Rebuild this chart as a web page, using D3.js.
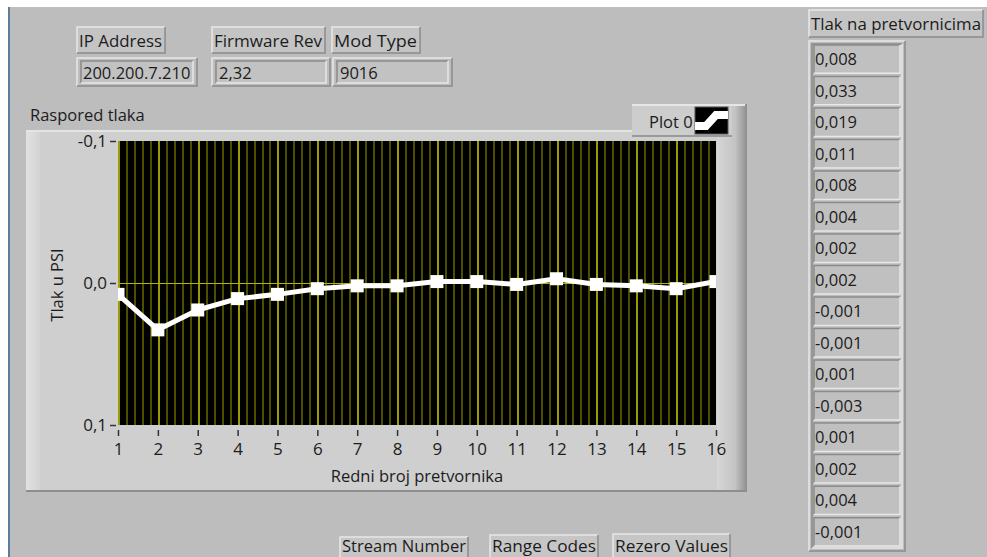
<!DOCTYPE html>
<html>
<head>
<meta charset="utf-8">
<script src="https://cdn.jsdelivr.net/npm/d3@7"></script>
<style>
  body { margin: 0; background: #fff; }
  svg { display: block; }
  text { font-family: "Open Sans", "Noto Sans", sans-serif; fill: #1c1c1c; }
</style>
</head>
<body>
<svg width="987" height="557"></svg>
<script>
// data
var sensors = d3.range(1, 17);
var pressure = [0.008, 0.033, 0.019, 0.011, 0.008, 0.004, 0.002, 0.002,
                -0.001, -0.001, 0.001, -0.003, 0.001, 0.002, 0.004, -0.001];
var pressureLabels = ["0,008", "0,033", "0,019", "0,011", "0,008", "0,004", "0,002", "0,002",
                      "-0,001", "-0,001", "0,001", "-0,003", "0,001", "0,002", "0,004", "-0,001"];
var yTicks = [-0.1, 0, 0.1];
var infoLabels = ["IP Address", "Firmware Rev", "Mod Type"];
var infoValues = ["200.200.7.210", "2,32", "9016"];
var buttons = ["Stream Number", "Range Codes", "Rezero Values"];

var svg = d3.select("svg"),
    width = +svg.attr("width"),
    height = +svg.attr("height");

var fs = 16.5;
var locale = d3.formatLocale({decimal: ",", thousands: ".", grouping: [3], currency: ["", ""], minus: "-"});
var fmt = locale.format(".1f");

var defs = svg.append("defs");
var gr = defs.append("linearGradient").attr("id", "rside").attr("x1", 0).attr("x2", 1);
gr.append("stop").attr("offset", 0).attr("stop-color", "#d6d6d6");
gr.append("stop").attr("offset", 0.6).attr("stop-color", "#c4c4c4");
gr.append("stop").attr("offset", 1).attr("stop-color", "#8e8e8e");
var gl = defs.append("linearGradient").attr("id", "lside").attr("x1", 0).attr("x2", 1);
gl.append("stop").attr("offset", 0).attr("stop-color", "#e2e2e2");
gl.append("stop").attr("offset", 1).attr("stop-color", "#d2d2d2");

// panel background
svg.append("rect").attr("x", 8).attr("y", 7).attr("width", width - 8).attr("height", height - 7)
    .attr("fill", "#bdbdbd");
svg.append("rect").attr("x", 8).attr("y", 7).attr("width", 2).attr("height", height - 7)
    .attr("fill", "#5b7d9c");

// raised / sunken box
function box(x, y, w, h, fill, inset) {
  var g = svg.append("g");
  g.append("rect").attr("x", x).attr("y", y).attr("width", w).attr("height", h).attr("fill", fill);
  var lt = inset ? "#8a8a8a" : "#e8e8e8", rb = inset ? "#e8e8e8" : "#8a8a8a";
  g.append("path").attr("d", "M" + x + "," + (y + h) + "V" + y + "H" + (x + w))
      .attr("fill", "none").attr("stroke", lt).attr("stroke-width", 1.5);
  g.append("path").attr("d", "M" + (x + w) + "," + y + "V" + (y + h) + "H" + x)
      .attr("fill", "none").attr("stroke", rb).attr("stroke-width", 1.5);
  return g;
}

// info controls
var infoX = [[77, 88, 77, 120], [212, 113, 212, 118], [332, 88, 333, 119]];
infoLabels.forEach(function(t, i) {
  var p = infoX[i];
  box(p[0], 27, p[1], 26, "#c4c4c4", false);
  svg.append("text").attr("x", p[0] + 2).attr("y", 47).attr("font-size", fs)
      .attr("textLength", p[1] - 5).attr("lengthAdjust", "spacingAndGlyphs").text(t);
  box(p[2], 58, p[3], 28, "#bdbdbd", false);
  box(p[2] + 4, 61, p[3] - 8, 22, "#c2c2c2", true);
  svg.append("text").attr("x", p[2] + (i == 0 ? 6 : 7)).attr("y", 79).attr("font-size", fs).text(infoValues[i]);
});

// graph frame
var fx0 = 26, fx1 = 747, fy0 = 130, fy1 = 492;
svg.append("rect").attr("x", fx0).attr("y", fy0).attr("width", fx1 - fx0).attr("height", fy1 - fy0)
    .attr("fill", "#cfcfcf");
svg.append("rect").attr("x", fx0).attr("y", fy0).attr("width", 14).attr("height", fy1 - fy0)
    .attr("fill", "url(#lside)");
svg.append("rect").attr("x", 717).attr("y", 104).attr("width", fx1 - 717).attr("height", fy1 - 104)
    .attr("fill", "url(#rside)");
svg.append("rect").attr("x", fx0).attr("y", fy1 - 2).attr("width", fx1 - fx0).attr("height", 2)
    .attr("fill", "#8e8e8e");
svg.append("rect").attr("x", fx0).attr("y", fy0).attr("width", 606).attr("height", 2)
    .attr("fill", "#e4e4e4");
svg.append("text").attr("x", 30).attr("y", 121).attr("font-size", fs).text("Raspored tlaka");

// legend
svg.append("rect").attr("x", 632).attr("y", 104).attr("width", 100).attr("height", 33)
    .attr("fill", "#cdcdcd");
svg.append("rect").attr("x", 632).attr("y", 104).attr("width", 113).attr("height", 2)
    .attr("fill", "#e6e6e6");
svg.append("rect").attr("x", 632).attr("y", 135).attr("width", 100).attr("height", 2)
    .attr("fill", "#9a9a9a");
svg.append("text").attr("x", 649).attr("y", 128).attr("font-size", fs).text("Plot 0");
svg.append("rect").attr("x", 695).attr("y", 107).attr("width", 33).attr("height", 27)
    .attr("fill", "#000").attr("stroke", "#555");
svg.append("path").attr("d", "M695,126H706L716,115H728")
    .attr("fill", "none").attr("stroke", "#fff").attr("stroke-width", 8);

// plot area
var x = d3.scaleLinear().domain([1, 16]).range([118, 716]);
var y = d3.scaleLinear().domain([-0.1, 0.1]).range([141, 425]);

svg.append("rect").attr("x", 118).attr("y", 141).attr("width", 598).attr("height", 284)
    .attr("fill", "#000");
defs.append("clipPath").attr("id", "clip").append("rect")
    .attr("x", 118).attr("y", 141).attr("width", 598).attr("height", 284);

var plot = svg.append("g").attr("clip-path", "url(#clip)");

// grid: 4 minor lines between integer ticks
var minor = d3.range(0, 76).map(function(i) { return 1 + i / 5; })
    .filter(function(d, i) { return i % 5 != 0; });
plot.selectAll(".minor").data(minor).enter().append("line")
    .attr("x1", function(d) { return Math.round(x(d)) + 1; })
    .attr("x2", function(d) { return Math.round(x(d)) + 1; })
    .attr("y1", 141).attr("y2", 425)
    .attr("stroke", "#4e4e00").attr("stroke-width", 2);
plot.selectAll(".major").data(sensors).enter().append("line")
    .attr("x1", function(d) { return Math.round(x(d)) + 1; })
    .attr("x2", function(d) { return Math.round(x(d)) + 1; })
    .attr("y1", 141).attr("y2", 425)
    .attr("stroke", "#9c9c00").attr("stroke-width", 2);
plot.append("line").attr("x1", 118).attr("x2", 716)
    .attr("y1", Math.round(y(0)) + 0.5).attr("y2", Math.round(y(0)) + 0.5)
    .attr("stroke", "#b4b400");

var line = d3.line().x(function(d, i) { return x(sensors[i]); }).y(function(d) { return y(d); });
plot.append("path").datum(pressure).attr("d", line)
    .attr("fill", "none").attr("stroke", "#fff").attr("stroke-width", 5).attr("stroke-linejoin", "round");
plot.selectAll(".pt").data(pressure).enter().append("rect")
    .attr("x", function(d, i) { return x(sensors[i]) - 6.5; })
    .attr("y", function(d) { return y(d) - 6.5; })
    .attr("width", 13).attr("height", 13).attr("fill", "#fff");

// axes
var yAxis = svg.append("g").attr("transform", "translate(116,0)")
    .call(d3.axisLeft(y).tickValues(yTicks).tickFormat(fmt).tickSize(6).tickPadding(3));
var xAxis = svg.append("g").attr("transform", "translate(0,430)")
    .call(d3.axisBottom(x).tickValues(sensors).tickSize(6).tickPadding(7));
[xAxis, yAxis].forEach(function(a) {
  a.select(".domain").remove();
  a.selectAll("line").attr("stroke", "#333").attr("stroke-width", 1.5);
  a.selectAll("text").attr("font-size", 17).attr("fill", "#1c1c1c")
      .attr("font-family", "Open Sans, Noto Sans, sans-serif");
});

svg.append("text").attr("x", 417).attr("y", 482).attr("text-anchor", "middle")
    .attr("font-size", fs).text("Redni broj pretvornika");
svg.append("text").attr("transform", "translate(63,285) rotate(-90)").attr("text-anchor", "middle")
    .attr("font-size", fs).text("Tlak u PSI");

// array indicator
box(809, 10, 174, 27, "#c4c4c4", false);
svg.append("text").attr("x", 811).attr("y", 30).attr("font-size", fs)
    .attr("textLength", 170).attr("lengthAdjust", "spacingAndGlyphs").text("Tlak na pretvornicima");
box(809, 41, 96, 510, "#bdbdbd", false);
box(812, 44, 90, 504, "#bdbdbd", true);
var cy = d3.scaleBand().domain(d3.range(16)).range([45, 546]).paddingInner(0.1);
pressureLabels.forEach(function(t, i) {
  box(814, cy(i), 86, cy.bandwidth(), "#c0c0c0", true);
  svg.append("text").attr("x", 815).attr("y", cy(i) + 20).attr("font-size", fs).text(t);
});

// buttons
var bx = [[340, 128, 537], [490, 108, 535], [613, 117, 534]];
buttons.forEach(function(t, i) {
  var b = bx[i];
  box(b[0], b[2], b[1], 30, "#c6c6c6", false);
  svg.append("text").attr("x", b[0] + 2).attr("y", 552).attr("font-size", fs)
      .attr("textLength", b[1] - 4).attr("lengthAdjust", "spacingAndGlyphs").text(t);
});
</script>
</body>
</html>
